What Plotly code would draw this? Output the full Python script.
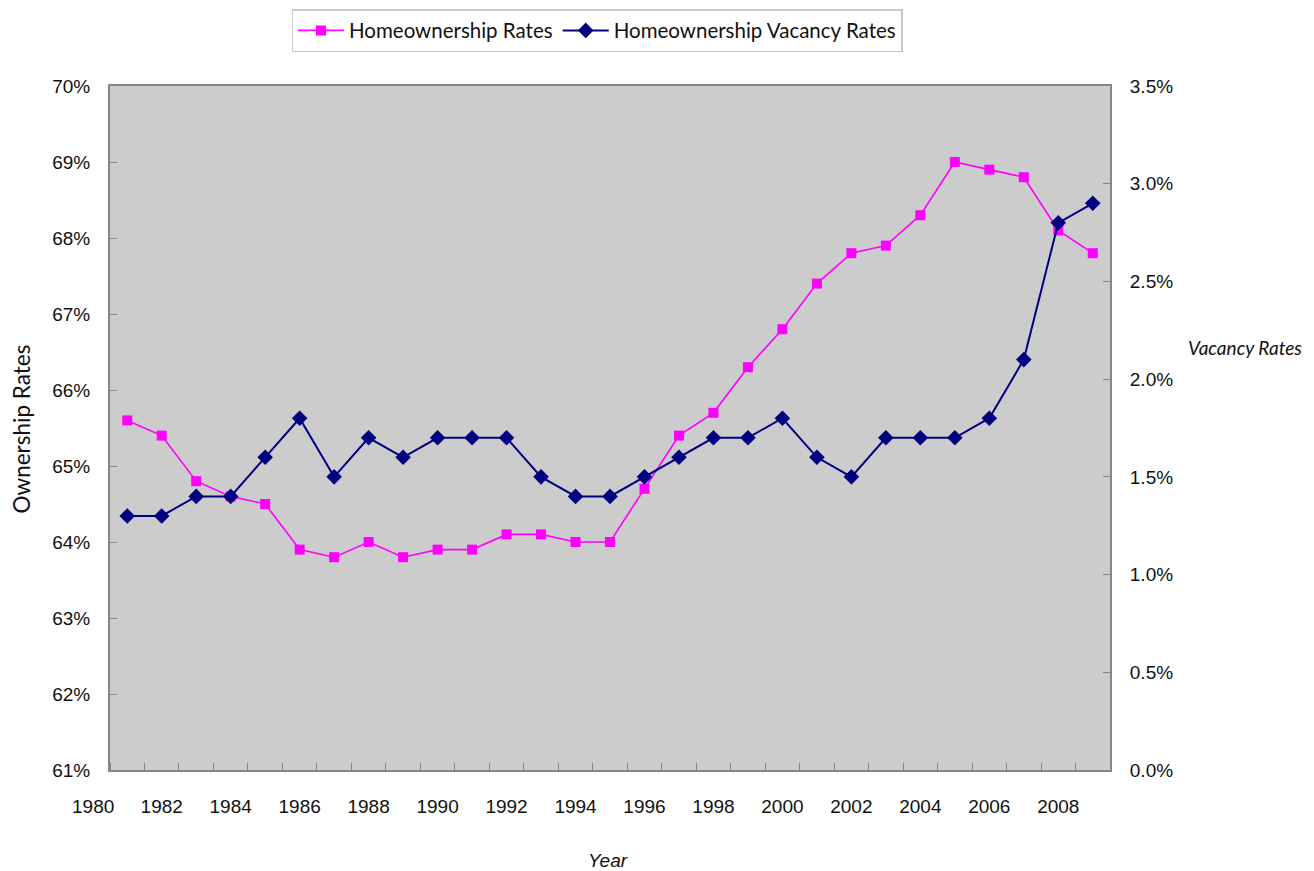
import plotly.graph_objects as go

years = list(range(1981, 2010))
ownership_rates = [65.6, 65.4, 64.8, 64.6, 64.5, 63.9, 63.8, 64.0, 63.8, 63.9,
                   63.9, 64.1, 64.1, 64.0, 64.0, 64.7, 65.4, 65.7, 66.3, 66.8,
                   67.4, 67.8, 67.9, 68.3, 69.0, 68.9, 68.8, 68.1, 67.8]
vacancy_rates = [1.3, 1.3, 1.4, 1.4, 1.6, 1.8, 1.5, 1.7, 1.6, 1.7,
                 1.7, 1.7, 1.5, 1.4, 1.4, 1.5, 1.6, 1.7, 1.7, 1.8,
                 1.6, 1.5, 1.7, 1.7, 1.7, 1.8, 2.1, 2.8, 2.9]
x_tick_years = list(range(1980, 2010, 2))
left_ticks = list(range(61, 71))
right_ticks = [0.0, 0.5, 1.0, 1.5, 2.0, 2.5, 3.0, 3.5]

x_range = [years[0] - 0.5, years[-1] + 0.5]

PINK = "#FF00FF"
NAVY = "#000080"
AXIS_GRAY = "#868686"
TICK_FONT = dict(family="Liberation Sans, Arial", size=19, color="#111111")
LABEL_FAMILY = "Lato, Open Sans, sans-serif"

fig = go.Figure()
fig.add_trace(go.Scatter(
    x=years, y=ownership_rates, name="Homeownership Rates",
    mode="lines+markers",
    line=dict(color=PINK, width=1.6),
    marker=dict(symbol="square", size=10, color=PINK),
    yaxis="y",
))
fig.add_trace(go.Scatter(
    x=years, y=vacancy_rates, name="Homeownership Vacancy Rates",
    mode="lines+markers",
    line=dict(color=NAVY, width=2),
    marker=dict(symbol="diamond", size=12, color=NAVY),
    yaxis="y2",
))

inside_ticks = [t for t in x_tick_years if x_range[0] <= t <= x_range[1]]
outside_ticks = [t for t in x_tick_years if t < x_range[0] or t > x_range[1]]

# page body has an 8px margin, so the figure is 8px smaller on each side
fig.update_layout(
    width=1306, height=863,
    margin=dict(l=102, r=204, t=78, b=101, autoexpand=False),
    paper_bgcolor="white",
    plot_bgcolor="#CCCCCC",
    showlegend=True,
    legend=dict(
        orientation="h", x=0.487, xanchor="center", y=1.081, yanchor="middle",
        bgcolor="white", bordercolor="#C8C8C8", borderwidth=1.5,
        font=dict(family=LABEL_FAMILY, size=20.5, color="#111111"),
        itemwidth=46, tracegroupgap=0,
    ),
    xaxis=dict(
        range=x_range, tickmode="array", tickvals=inside_ticks,
        ticktext=[str(t) for t in inside_ticks],
        ticks="", showgrid=False, zeroline=False,
        showline=True, linecolor=AXIS_GRAY, linewidth=2, mirror=True,
        tickfont=TICK_FONT, ticklabelstandoff=18,
        minor=dict(ticks="inside", tick0=x_range[0], dtick=1, ticklen=7,
                   tickcolor=AXIS_GRAY, tickwidth=1, showgrid=False),
    ),
    yaxis=dict(
        range=[left_ticks[0], left_ticks[-1]], tickmode="array",
        tickvals=left_ticks, ticktext=[f"{v}%" for v in left_ticks],
        ticks="inside", ticklen=7, tickcolor=AXIS_GRAY,
        showgrid=False, zeroline=False,
        showline=True, linecolor=AXIS_GRAY, linewidth=2, mirror=True,
        tickfont=TICK_FONT, ticklabelstandoff=14,
    ),
    yaxis2=dict(
        range=[right_ticks[0], right_ticks[-1]], tickmode="array",
        tickvals=right_ticks, ticktext=[f"{v:.1f}%" for v in right_ticks],
        overlaying="y", side="right",
        ticks="inside", ticklen=7, tickcolor=AXIS_GRAY,
        showgrid=False, zeroline=False,
        showline=True, linecolor=AXIS_GRAY, linewidth=2,
        tickfont=TICK_FONT, ticklabelstandoff=14,
    ),
)

annotations = []
for t in outside_ticks:
    annotations.append(dict(
        text=str(t), xref="paper", yref="paper",
        x=(t - x_range[0]) / (x_range[1] - x_range[0]), y=0,
        xanchor="center", yanchor="top", yshift=-24, showarrow=False,
        font=TICK_FONT,
    ))
annotations += [
    dict(text="Ownership Rates", xref="paper", yref="paper", x=-0.0885, y=0.4985,
         textangle=-90, showarrow=False, xanchor="center", yanchor="middle",
         font=dict(family=LABEL_FAMILY, size=22.5, color="#111111")),
    dict(text="<i>Vacancy Rates</i>", xref="paper", yref="paper", x=1.135, y=0.618,
         showarrow=False, xanchor="center", yanchor="middle",
         font=dict(family=LABEL_FAMILY, size=19, color="#111111")),
    dict(text="<i>Year</i>", xref="paper", yref="paper", x=0.498, y=-0.1316,
         showarrow=False, xanchor="center", yanchor="middle",
         font=dict(family="Liberation Sans, Arial", size=19, color="#111111")),
]
fig.update_layout(annotations=annotations)

fig.write_html("out.html")
